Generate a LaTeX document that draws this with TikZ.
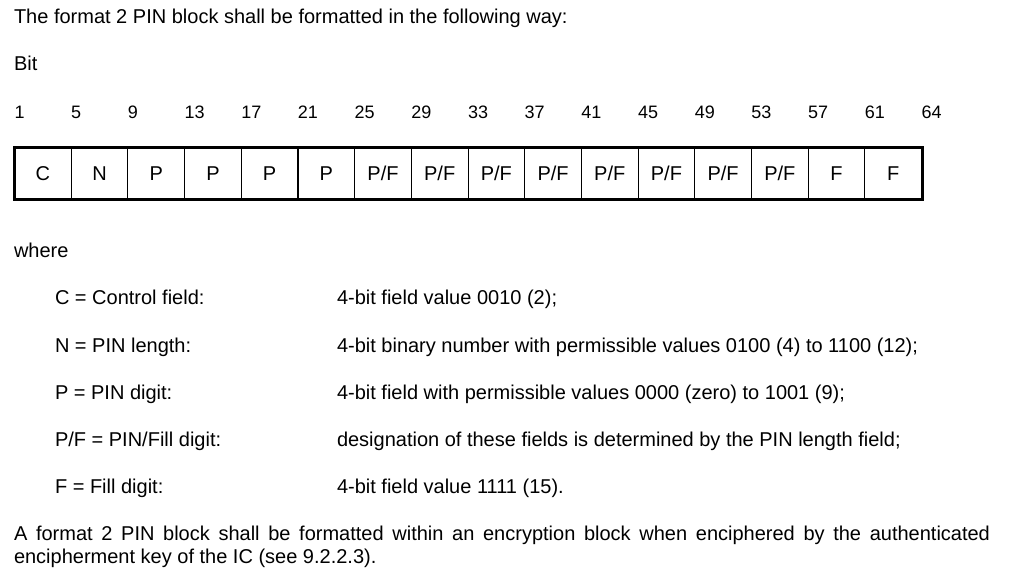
\documentclass[tikz,border=0pt]{standalone}
\usepackage{fontspec}
\setmainfont{Liberation Sans}
\begin{document}
\begin{tikzpicture}[x=1pt,y=-1pt,
  txt/.style={anchor=base west,inner sep=0pt,outer sep=0pt,font=\fontsize{20}{23}\selectfont},
  bitno/.style={txt,font=\fontsize{18}{21}\selectfont},
  cellbox/.style={draw,line width=1.1pt,minimum width=56.6875pt,minimum height=50pt,
    inner sep=0pt,text height=14.3pt,text depth=0pt,anchor=north west,
    font=\fontsize{20}{23}\selectfont},
  frame/.style={draw,line width=3pt}]
\useasboundingbox (0,0) rectangle (1017,577);

\node[txt] (title) at (14,24) {The format 2 PIN block shall be formatted in the following way:};
\node[txt] (bit) at (14,71) {Bit};

% bit positions above the block
\foreach \n [count=\i from 0] in {1,5,9,13,17,21,25,29,33,37,41,45,49,53,57,61}
  \node[bitno] (b\i) at ({14.5+\i*56.6875},119) {\n};
\node[bitno] (b16) at (921.5,119) {64};

% the sixteen 4-bit fields
\foreach \lab [count=\i from 0] in {C,N,P,P,P,P,P/F,P/F,P/F,P/F,P/F,P/F,P/F,P/F,F,F}
  \node[cellbox] (c\i) at ({14+\i*56.6875},148) {\lab};
\draw[frame] (c0.north west) rectangle (c15.south east);

\node[txt] (where) at (14,258) {where};

% legend
\node[txt] (kC) at (55,305) {C = Control field:};
\node[txt] (vC) at (337,305) {4-bit field value 0010 (2);};
\node[txt] (kN) at (55,352) {N = PIN length:};
\node[txt] (vN) at (337,352) {4-bit binary number with permissible values 0100 (4) to 1100 (12);};
\node[txt] (kP) at (55,399) {P = PIN digit:};
\node[txt] (vP) at (337,399) {4-bit field with permissible values 0000 (zero) to 1001 (9);};
\node[txt] (kPF) at (55,446) {P/F = PIN/Fill digit:};
\node[txt] (vPF) at (337,446) {designation of these fields is determined by the PIN length field;};
\node[txt] (kF) at (55,493) {F = Fill digit:};
\node[txt] (vF) at (337,493) {4-bit field value 1111 (15).};

% closing paragraph
\node[txt,text width=976pt,align=justify] (para) at (14,540)
  {A format 2 PIN block shall be formatted within an encryption block when enciphered by the authenticated\linebreak
   encipherment key of the IC (see 9.2.2.3).};
\end{tikzpicture}
\end{document}
